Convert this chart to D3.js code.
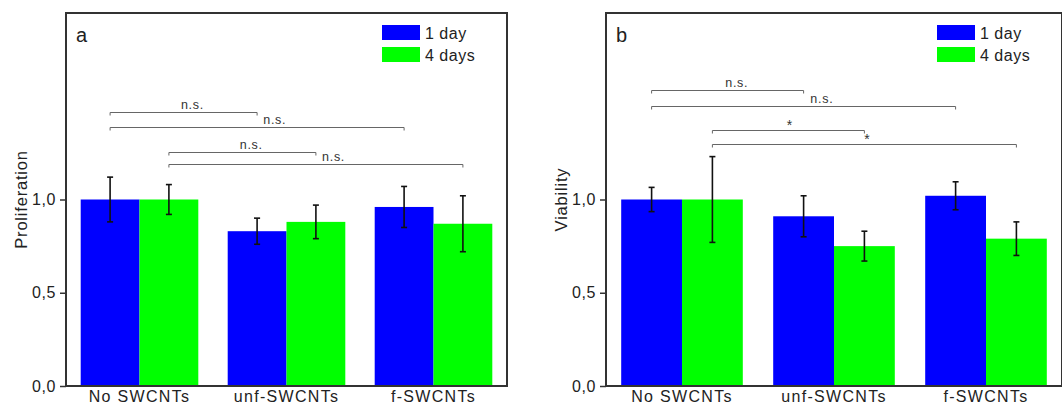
<!DOCTYPE html>
<html>
<head>
<meta charset="utf-8">
<script src="https://cdn.jsdelivr.net/npm/d3@7"></script>
<style>
  body { margin: 0; background: #fff; }
  svg { display: block; font-family: Arial, "Liberation Sans", sans-serif; }
</style>
</head>
<body>
<svg id="chart" width="1062" height="408"></svg>
<script>
// groups and series
const categories = ["No SWCNTs", "unf-SWCNTs", "f-SWCNTs"];
const series = ["1 day", "4 days"];
const yTicks = [0, 0.5, 1.0];

// panel a: proliferation
const prolifMean = [[1.0, 1.0], [0.83, 0.88], [0.96, 0.87]];
const prolifErr = [[0.12, 0.08], [0.07, 0.09], [0.11, 0.15]];
// brackets: [from category, from series, to category, to series, height, label]
const prolifSig = [
  [0, 0, 1, 0, 1.47, "n.s."],
  [0, 0, 2, 0, 1.39, "n.s."],
  [0, 1, 1, 1, 1.255, "n.s."],
  [0, 1, 2, 1, 1.19, "n.s."]
];

// panel b: viability
const viabMean = [[1.0, 1.0], [0.91, 0.75], [1.02, 0.79]];
const viabErr = [[0.065, 0.23], [0.11, 0.08], [0.075, 0.09]];
const viabSig = [
  [0, 0, 1, 0, 1.585, "n.s."],
  [0, 0, 2, 0, 1.5, "n.s."],
  [0, 1, 1, 1, 1.373, "*"],
  [0, 1, 2, 1, 1.30, "*"]
];

const colors = ["#0000ff", "#00ff00"];
const axisColor = "#333";
const textColor = "#222";

const svg = d3.select("#chart");

function panel({left, right, top, bottom, letter, title, mean, err, sig}) {
  const x = d3.scaleBand().domain(d3.range(categories.length))
      .range([left, right]).paddingInner(0.2).paddingOuter(0.1);
  const xs = d3.scaleBand().domain(d3.range(series.length))
      .range([0, x.bandwidth()]);
  const y = d3.scaleLinear().domain([0, 2]).range([bottom, top]);

  const g = svg.append("g");

  // bars
  const grp = g.selectAll("g.grp")
    .data(categories.map((c, i) => ({c, i})))
    .join("g")
      .attr("transform", d => `translate(${x(d.i)},0)`);

  grp.selectAll("rect")
    .data(d => series.map((s, j) => ({i: d.i, j, v: mean[d.i][j]})))
    .join("rect")
      .attr("x", d => xs(d.j))
      .attr("width", xs.bandwidth())
      .attr("y", d => y(d.v))
      .attr("height", d => y(0) - y(d.v))
      .attr("fill", d => colors[d.j]);

  // error bars
  const eb = grp.selectAll("g.eb")
    .data(d => series.map((s, j) => ({j, v: mean[d.i][j], e: err[d.i][j]})))
    .join("g")
      .attr("transform", d => `translate(${xs(d.j) + xs.bandwidth() / 2},0)`)
      .attr("stroke", "#111")
      .attr("stroke-width", 1.6);
  eb.append("line")
      .attr("y1", d => y(d.v + d.e)).attr("y2", d => y(d.v - d.e));
  eb.append("line").attr("x1", -3).attr("x2", 3)
      .attr("y1", d => y(d.v + d.e)).attr("y2", d => y(d.v + d.e));
  eb.append("line").attr("x1", -3).attr("x2", 3)
      .attr("y1", d => y(d.v - d.e)).attr("y2", d => y(d.v - d.e));

  // significance brackets
  const cx = (i, j) => x(i) + xs(j) + xs.bandwidth() / 2;
  const br = g.selectAll("g.sig").data(sig).join("g");
  br.append("path")
      .attr("fill", "none")
      .attr("stroke", "#666")
      .attr("stroke-width", 1)
      .attr("d", d => {
        const x1 = cx(d[0], d[1]), x2 = cx(d[2], d[3]), yy = Math.round(y(d[4])) + 0.5;
        return `M${x1},${yy + 3}V${yy}H${x2}V${yy + 3}`;
      });
  br.append("text")
      .attr("x", d => {
        const x1 = cx(d[0], d[1]), x2 = cx(d[2], d[3]);
        return x1 + (d[5] === "*" ? 0.51 : 0.56) * (x2 - x1);
      })
      .attr("y", d => y(d[4]) - (d[5] === "*" ? 0 : 3))
      .attr("text-anchor", "middle")
      .attr("fill", "#333")
      .attr("font-size", d => d[5] === "*" ? 14 : 12.5)
      .attr("letter-spacing", "0.7px")
      .text(d => d[5]);

  // y axis
  const yAxis = g.append("g")
      .attr("transform", `translate(${left},0)`)
      .call(d3.axisLeft(y).tickValues(yTicks).tickSize(6).tickPadding(4)
        .tickFormat(d => d3.format(".1f")(d).replace(".", ",")));
  yAxis.select(".domain").remove();
  yAxis.selectAll("line").attr("stroke", axisColor).attr("stroke-width", 1.5);
  yAxis.selectAll("text")
      .attr("fill", textColor)
      .attr("font-size", 16)
      .attr("letter-spacing", "0.6px");

  // x labels
  const xAxis = g.append("g")
      .attr("transform", `translate(0,${bottom})`)
      .call(d3.axisBottom(x).tickSize(0).tickPadding(5)
        .tickFormat(i => categories[i]));
  xAxis.select(".domain").remove();
  xAxis.selectAll("text")
      .attr("fill", textColor)
      .attr("font-size", 16)
      .attr("letter-spacing", "1.3px");

  // frame
  g.append("rect")
      .attr("x", left).attr("y", top)
      .attr("width", right - left).attr("height", bottom - top)
      .attr("fill", "none")
      .attr("stroke", axisColor)
      .attr("stroke-width", 2);

  // panel letter
  g.append("text")
      .attr("x", left + 10).attr("y", top + 29)
      .attr("fill", textColor)
      .attr("font-size", 20)
      .text(letter);

  // y title
  g.append("text")
      .attr("transform", `translate(${left - 45},${(top + bottom) / 2}) rotate(-90)`)
      .attr("text-anchor", "middle")
      .attr("dy", "0.35em")
      .attr("fill", textColor)
      .attr("font-size", 16.5)
      .attr("letter-spacing", "0.8px")
      .text(title);

  // legend
  const lg = g.append("g")
      .attr("transform", `translate(${right - 125},${top + 12})`);
  const item = lg.selectAll("g").data(series).join("g")
      .attr("transform", (d, j) => `translate(0,${j * 22})`);
  item.append("rect")
      .attr("width", 38).attr("height", 15)
      .attr("fill", (d, j) => colors[j]);
  item.append("text")
      .attr("x", 43).attr("y", 8)
      .attr("dy", "0.35em")
      .attr("fill", textColor)
      .attr("font-size", 16)
      .attr("letter-spacing", "0.5px")
      .text(d => d);
}

panel({left: 66, right: 507, top: 13, bottom: 386, letter: "a",
       title: "Proliferation", mean: prolifMean, err: prolifErr, sig: prolifSig});
panel({left: 606, right: 1062, top: 13, bottom: 386, letter: "b",
       title: "Viability", mean: viabMean, err: viabErr, sig: viabSig});
</script>
</body>
</html>
